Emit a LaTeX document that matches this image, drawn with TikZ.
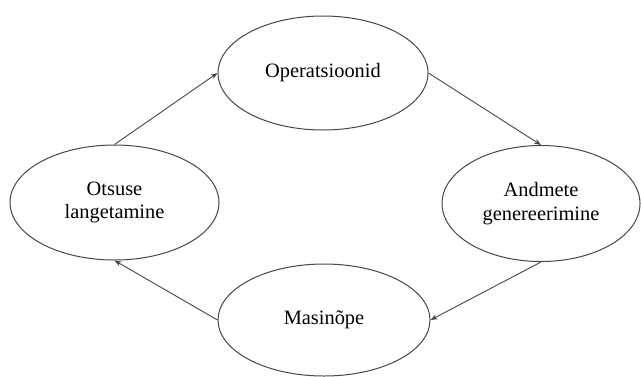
\documentclass[tikz,border=0pt]{standalone}
\usepackage{fontspec}
\setmainfont{Liberation Serif}
\usetikzlibrary{shapes.geometric, arrows.meta}
\definecolor{edgegray}{RGB}{70, 70, 70}

\begin{document}
\begin{tikzpicture}[x=0.5pt, y=-0.5pt,
    phase/.style={draw=edgegray, line width=0.5pt, ellipse, inner sep=0pt,
                  align=center, font=\fontsize{10.2}{11.8}\selectfont},
    flow/.style={-{Stealth[length=3.5pt, width=2.6pt]}, line width=0.45pt, edgegray}]
  \useasboundingbox (0,0) rectangle (641,376);

  % Top: operations
  \node[phase, minimum width=105pt, minimum height=57pt] (ops) at (323,73) {Operatsioonid};

  % Right: data generation
  \node[phase, minimum width=99pt, minimum height=58pt] (data) at (541,203.5)
        {Andmete\\genereerimine};

  % Bottom: machine learning
  \node[phase, minimum width=106pt, minimum height=56pt] (ml) at (324,320) {Masinõpe};

  % Left: decision making
  \node[phase, minimum width=104.5pt, minimum height=57.5pt] (dec) at (114.5,202.5)
        {Otsuse\\langetamine};

  % Cycle
  \draw[flow] (ops.east) -- (data.north);
  \draw[flow] (data.south) -- (ml.east);
  \draw[flow] (ml.west) -- (dec.south);
  \draw[flow] (dec.north) -- (ops.west);
\end{tikzpicture}
\end{document}
